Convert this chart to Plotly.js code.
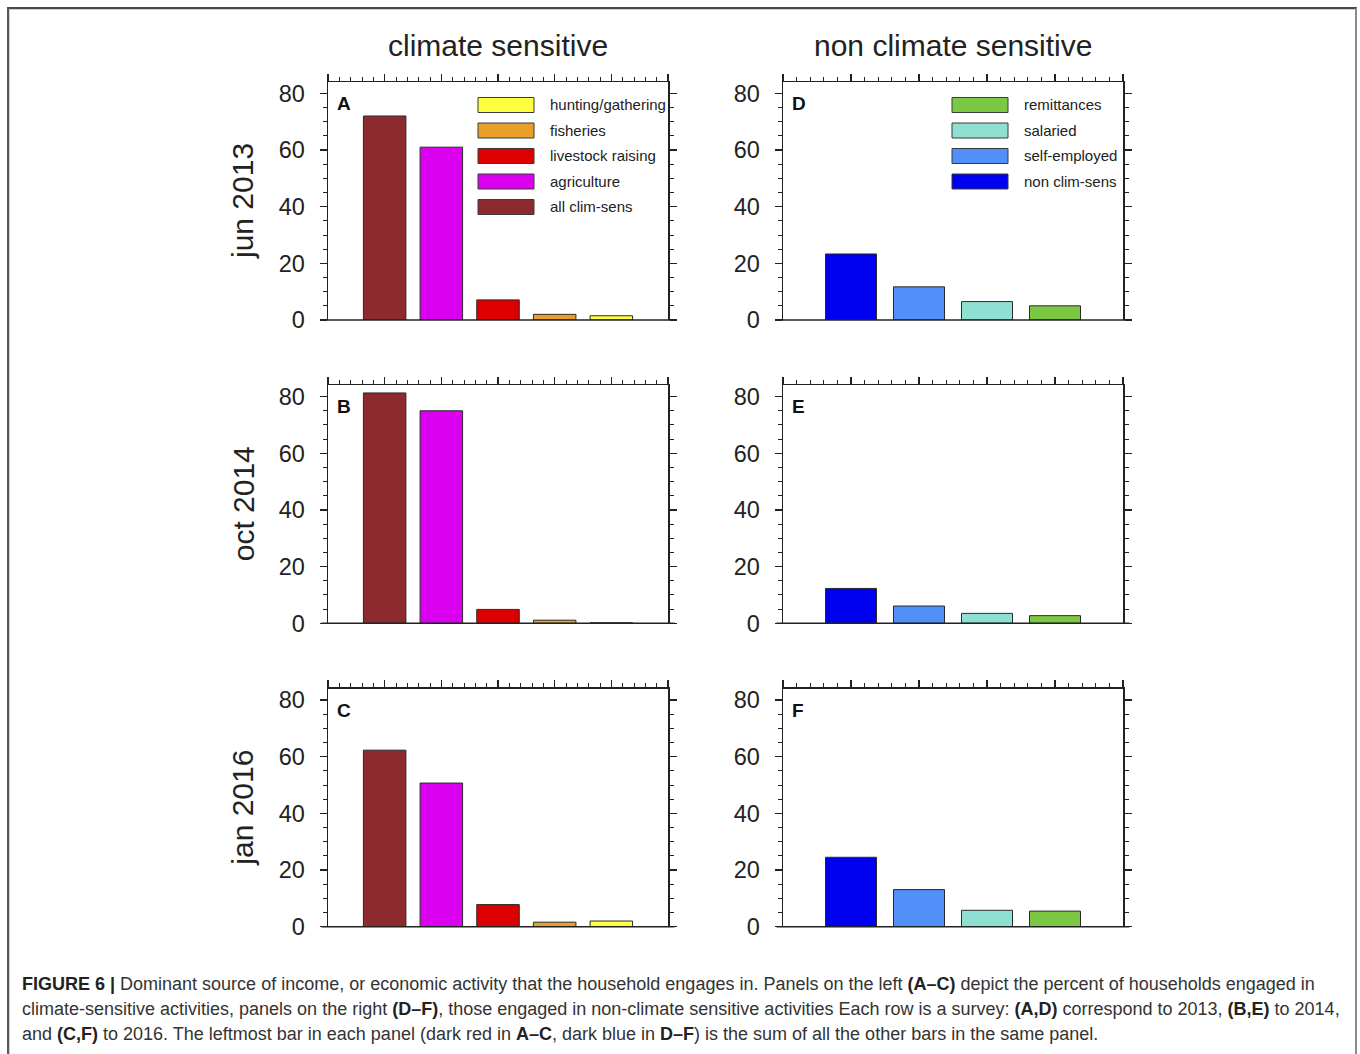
<!DOCTYPE html>
<html>
<head>
<meta charset="utf-8">
<script src="https://cdn.plot.ly/plotly-3.0.1.min.js"></script>
<style>
  html, body { margin:0; padding:0; background:#fff; }
  #wrap { position:relative; width:1360px; height:1054px; overflow:hidden; }
  #plot { position:absolute; left:0; top:0; width:1360px; height:1054px; }
  #frame { position:absolute; left:7px; top:7px; width:1346px; height:1100px;
           border-top:2px solid #4a4a4a; border-left:2px solid #5a5a5a; border-right:2px solid #8a8a8a;
           box-shadow: inset 1px 1px 0 #cfcfcf; pointer-events:none; }
  #caption { position:absolute; left:22px; top:972px; font-family:"Liberation Sans", Arial, sans-serif;
             font-size:18px; line-height:25px; color:#333; white-space:nowrap; }
  #caption b { color:#222; }
</style>
</head>
<body>
<div id="wrap">
  <div id="plot"></div>
  <div id="frame"></div>
  <div id="caption">
    <b>FIGURE 6 |</b> Dominant source of income, or economic activity that the household engages in. Panels on the left <b>(A–C)</b> depict the percent of households engaged in<br>
    climate-sensitive activities, panels on the right <b>(D–F)</b>, those engaged in non-climate sensitive activities Each row is a survey: <b>(A,D)</b> correspond to 2013, <b>(B,E)</b> to 2014,<br>
    and <b>(C,F)</b> to 2016. The leftmost bar in each panel (dark red in <b>A–C</b>, dark blue in <b>D–F</b>) is the sum of all the other bars in the same panel.
  </div>
</div>
<script>
// ---------------- data ----------------
const columnTitles = ['climate sensitive', 'non climate sensitive'];
const rowLabels = ['jun 2013', 'oct 2014', 'jan 2016'];
const panelLetters = [['A', 'D'], ['B', 'E'], ['C', 'F']];

const climCats = ['all clim-sens', 'agriculture', 'livestock raising', 'fisheries', 'hunting/gathering'];
const climColors = ['#8c2a2e', '#dc00f0', '#dc0000', '#e8a02a', '#ffff40'];
const nonCats = ['non clim-sens', 'self-employed', 'salaried', 'remittances'];
const nonColors = ['#0000f0', '#5090f8', '#8ee0d2', '#7cc844'];

const clim2013 = [72.0, 61.0, 7.1, 2.0, 1.5];
const clim2014 = [81.3, 75.0, 4.9, 1.1, 0.2];
const clim2016 = [62.3, 50.7, 7.8, 1.6, 2.0];
const non2013 = [23.3, 11.7, 6.5, 5.0];
const non2014 = [12.3, 6.1, 3.5, 2.7];
const non2016 = [24.5, 13.1, 5.8, 5.5];

const yTicks = [0, 20, 40, 60, 80];

// ---------------- layout geometry (pixels) ----------------
const W = 1360, H = 1054;
const colLeft = [328, 783];
const panelW = 340;
const rowBottom = [320, 623.3, 926.7];
const yMax = 84;
const panelH = 238;

const FONT = '"Liberation Sans", Arial, Helvetica, sans-serif';
const INK = '#222';

const groups = [
  {cats: climCats, colors: climColors, vals: [clim2013, clim2014, clim2016]},
  {cats: nonCats, colors: nonColors, vals: [non2013, non2014, non2016]}
];

const traces = [];
const layout = {
  width: W, height: H,
  margin: {l: 0, r: 0, t: 0, b: 0},
  paper_bgcolor: '#fff', plot_bgcolor: '#fff',
  showlegend: false,
  font: {family: FONT, color: INK},
  annotations: [], shapes: []
};

let idx = 0;
for (let r = 0; r < 3; r++) {
  for (let c = 0; c < 2; c++) {
    idx++;
    const g = groups[c];
    const n = g.cats.length;
    const xa = idx === 1 ? 'xaxis' : 'xaxis' + idx;
    const ya = idx === 1 ? 'yaxis' : 'yaxis' + idx;
    const xr = idx === 1 ? 'x' : 'x' + idx;
    const yr = idx === 1 ? 'y' : 'y' + idx;
    const x0 = colLeft[c] / W, x1 = (colLeft[c] + panelW) / W;
    const yb = 1 - rowBottom[r] / H, yt = 1 - (rowBottom[r] - panelH) / H;

    traces.push({
      type: 'bar',
      x: g.cats.map((_, i) => i + 1),
      y: g.vals[r],
      width: 0.75,
      text: g.cats, hovertemplate: '%{text}: %{y}<extra></extra>',
      textposition: 'none',
      marker: {color: g.colors, line: {color: '#2a2a2a', width: 1}},
      xaxis: xr, yaxis: yr
    });

    layout[xa] = {
      domain: [x0, x1], anchor: yr, side: 'top',
      range: [0, n + 1], dtick: 1, tick0: 0,
      showticklabels: false, showgrid: false, zeroline: false,
      showline: true, linecolor: INK, linewidth: 1.5,
      ticks: 'outside', ticklen: 7, tickwidth: 1.3, tickcolor: INK,
      minor: {dtick: 0.2, ticks: 'outside', ticklen: 4, tickwidth: 1, tickcolor: INK},
      fixedrange: true
    };
    layout[ya] = {
      domain: [yb, yt], anchor: xr,
      range: [0, yMax], tickvals: yTicks, ticktext: yTicks.map(String),
      showgrid: false, zeroline: false,
      showline: true, linecolor: INK, linewidth: 1.5, mirror: 'ticks',
      ticks: 'outside', ticklen: 7, tickwidth: 1.3, tickcolor: INK,
      minor: {tickvals: [5,10,15,25,30,35,45,50,55,65,70,75], ticks: 'outside', ticklen: 4, tickwidth: 1, tickcolor: INK},
      tickfont: {family: FONT, size: 23.5, color: INK},
      ticklabelstandoff: 10,
      fixedrange: true
    };

    // bottom baseline (extends past the frame like the original)
    layout.shapes.push({
      type: 'line', xref: xr + ' domain', yref: yr + ' domain',
      x0: -0.019, x1: 1.019, y0: 0, y1: 0,
      line: {color: INK, width: 1.5}
    });

    // panel letter
    layout.annotations.push({
      xref: xr + ' domain', yref: yr + ' domain',
      x: 7 / panelW, y: 1 - 9 / panelH, xanchor: 'left', yanchor: 'top',
      text: '<b>' + panelLetters[r][c] + '</b>', showarrow: false,
      font: {family: FONT, size: 19, color: '#111'}
    });

    // legend only in top row
    if (r === 0) {
      const bx0 = c === 0 ? 150 : 169, bw = 56, tx = c === 0 ? 220 : 239;
      const order = g.cats.map((_, i) => i).reverse();
      order.forEach((ci, k) => {
        const cy = 23 + 25.5 * k;
        layout.shapes.push({
          type: 'rect', xref: xr + ' domain', yref: yr + ' domain',
          x0: bx0 / panelW, x1: (bx0 + bw) / panelW,
          y0: 1 - (cy + 7.5) / panelH, y1: 1 - (cy - 7.5) / panelH,
          fillcolor: g.colors[ci], line: {color: '#3a3a3a', width: 1}
        });
        layout.annotations.push({
          xref: xr + ' domain', yref: yr + ' domain',
          x: tx / panelW, y: 1 - cy / panelH, xanchor: 'left', yanchor: 'middle',
          text: g.cats[ci], showarrow: false,
          font: {family: FONT, size: 15, color: '#222'}
        });
      });
    }

    // row labels
    if (c === 0) {
      layout.annotations.push({
        xref: 'paper', yref: yr + ' domain',
        x: 243 / W, y: 0.5, xanchor: 'center', yanchor: 'middle',
        text: rowLabels[r], textangle: -90, showarrow: false,
        font: {family: FONT, size: 30, color: INK}
      });
    }
    // column titles
    if (r === 0) {
      layout.annotations.push({
        xref: xr + ' domain', yref: 'paper',
        x: 0.5, y: 1 - 45 / H, xanchor: 'center', yanchor: 'middle',
        text: columnTitles[c], showarrow: false,
        font: {family: FONT, size: 30, color: INK}
      });
    }
  }
}

Plotly.newPlot('plot', traces, layout, {displayModeBar: false, staticPlot: true});
</script>
</body>
</html>
